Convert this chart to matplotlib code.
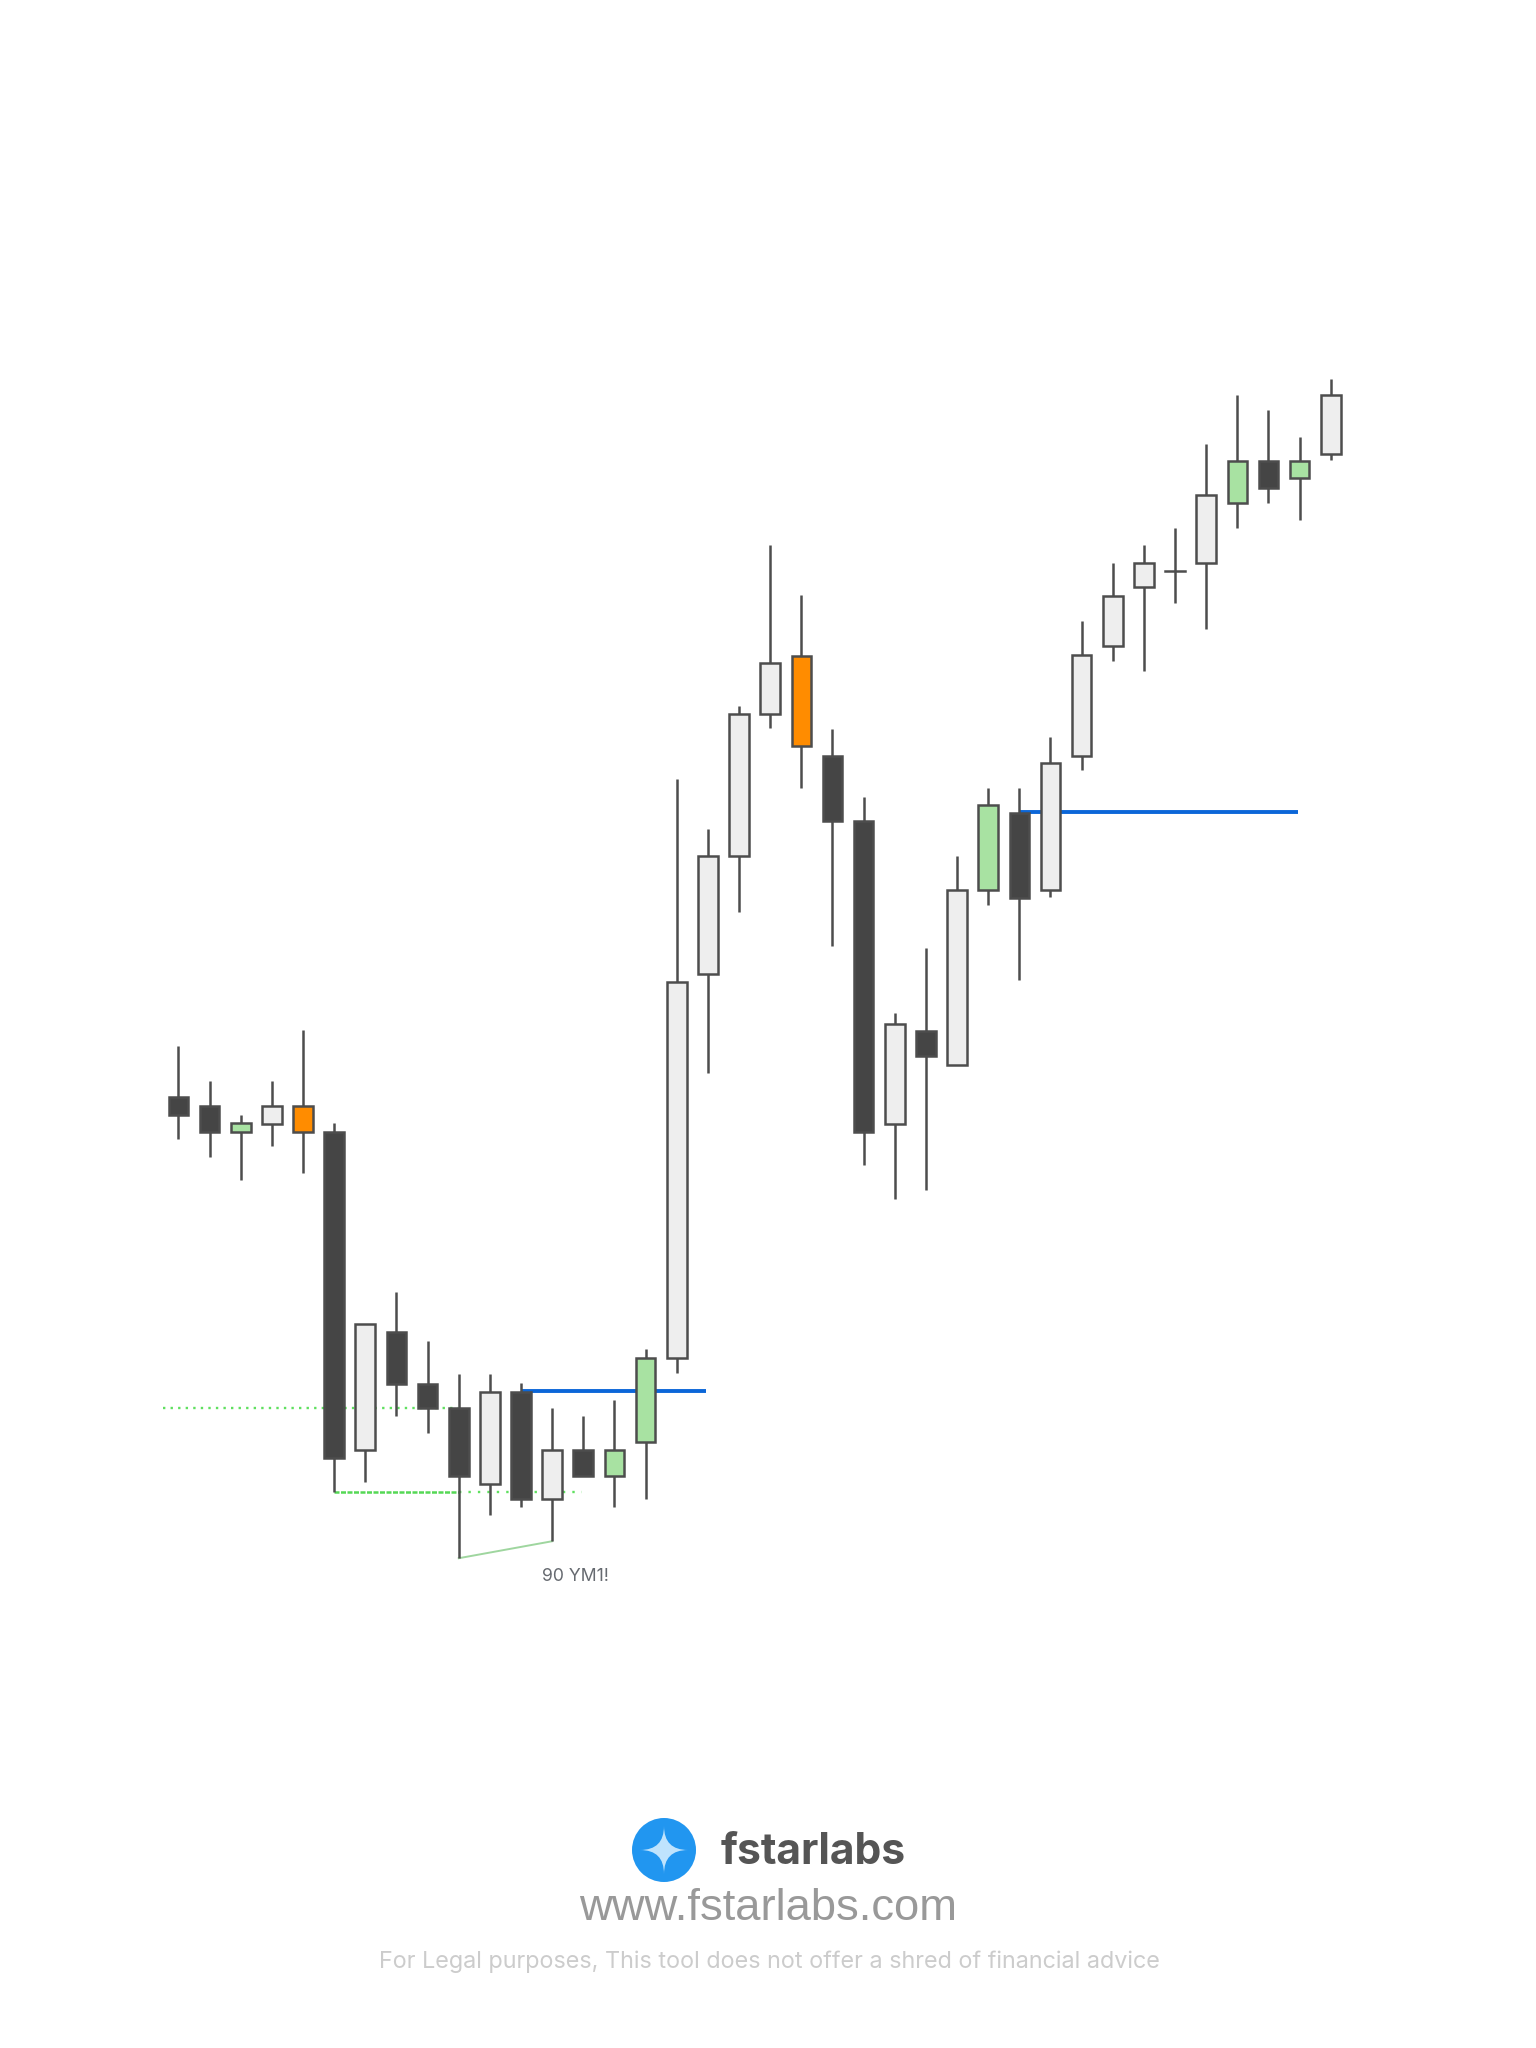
import matplotlib
matplotlib.use("Agg")
import matplotlib.pyplot as plt
from matplotlib.patches import Rectangle, Ellipse, PathPatch
from matplotlib.path import Path

# Price-like values (higher = up)
BASE = 1567
highs = [800,827,853,827,788,859,1013,988,1026,1051,1051,1058,1077,1083,1071,1032,596,634,540,417,455,558,610,775,725,655,603,603,564,475,431,417,404,340,302,314,334,290]
tops  = [839,846,859,846,846,866,1013,1019,1059,1077,1065,1065,1109,1109,1109,1039,751,655,546,507,502,578,628,783,789,681,616,622,584,501,456,431,437,379,353,353,353,302]
bots  = [853,866,866,860,866,1115,1109,1059,1077,1129,1135,1147,1147,1129,1129,1103,1039,745,655,546,571,628,866,860,808,815,681,687,681,578,494,449,437,431,385,373,366,347]
lows  = [871,885,903,877,897,1141,1134,1083,1096,1192,1159,1153,1179,1129,1153,1147,1050,821,698,557,603,724,891,917,910,815,692,750,686,589,506,513,461,481,404,385,398,352]
kinds = ["d","d","g","l","o","d","l","d","d","d","l","d","l","d","g","g","l","l","l","l","o","d","d","l","d","l","g","d","l","l","l","l","l","l","g","d","g","l"]
colors = {"d":"#454545","l":"#eeeeee","g":"#a8e2a2","o":"#ff8c00"}
EDGE = "#4d4d4d"

W_PREVIEW = 1175
S = 1536/W_PREVIEW
highs,tops,bots,lows = [[BASE-v for v in a] for a in (highs,tops,bots,lows)]

fig = plt.figure(figsize=(15.36,20.48),dpi=100,facecolor="white")
ax = fig.add_axes([0,0,1,1])
ax.axis("off")
step = (1018-136.5)/37
ax.set_xlim((0-136.5)/step,(W_PREVIEW-136.5)/step)
ax.set_ylim(BASE-2048/S,BASE)

def X(p): return (p-136.5)/step
dot_a = BASE-1077; dot_b = BASE-1141; blue_a = BASE-1064; blue_b = BASE-621
ax.plot([X(125),X(350)],[dot_a,dot_a],color="#5fe05f",lw=1.7,ls=(0,(1,2.2)),zorder=1)
ax.plot([5,9],[dot_b,dot_b],color="#55d855",lw=1.8,ls=(0,(2,0.6)),zorder=1)
ax.plot([9,X(445)],[dot_b,dot_b],color="#5fe05f",lw=1.7,ls=(0,(1,3)),zorder=1)
ax.plot([9,12],[BASE-1192,BASE-1179],color="#9fd69f",lw=1.4,zorder=1)
ax.plot([11,X(540)],[blue_a,blue_a],color="#0b66d8",lw=2.8,zorder=1,solid_capstyle="butt")
ax.plot([27,X(993)],[blue_b,blue_b],color="#0b66d8",lw=2.8,zorder=1,solid_capstyle="butt")

W = 0.63
LW = 1.8
for i,(h,t,b,l,k) in enumerate(zip(highs,tops,bots,lows,kinds)):
    ax.plot([i,i],[l,h],color=EDGE,lw=LW,zorder=2,solid_capstyle="butt")
    if t==b:
        ax.plot([i-W/2,i+W/2],[t,t],color=EDGE,lw=LW,zorder=3)
    else:
        ax.add_patch(Rectangle((i-W/2,b),W,t-b,fc=colors[k],ec=EDGE,lw=LW,zorder=3))
ax.text(X(440),BASE-1206,"90 YM1!",ha="center",va="center",fontsize=12.7,color="#666a70",family="Inter",zorder=4)

ov = fig.add_axes([0,0,1,1]); ov.axis("off"); ov.patch.set_alpha(0)
ov.set_xlim(0,1536); ov.set_ylim(2048,0)
cx,cy = 664,1850
ov.add_patch(Ellipse((cx,cy),64,64,fc="#2196f0",ec="none"))
r=24
star = Path([(cx,cy-r),(cx,cy),(cx+r,cy),(cx,cy),(cx,cy+r),(cx,cy),(cx-r,cy),(cx,cy),(cx,cy-r)],
            [Path.MOVETO,Path.CURVE3,Path.CURVE3,Path.CURVE3,Path.CURVE3,Path.CURVE3,Path.CURVE3,Path.CURVE3,Path.CURVE3])
ov.add_patch(PathPatch(star,fc="#bfe3fd",ec="none"))
ov.text(813,1852,"fstarlabs",ha="center",va="center",fontsize=30.7,fontweight="bold",color="#555555",family="Inter")
ov.text(768,1909,"www.fstarlabs.com",ha="center",va="center",fontsize=32.7,color="#999999",family="Liberation Sans")
ov.text(769,1962,"For Legal purposes, This tool does not offer a shred of financial advice",ha="center",va="center",fontsize=16.85,color="#cccccc",family="Inter")
fig.savefig("out.png",dpi=100)
